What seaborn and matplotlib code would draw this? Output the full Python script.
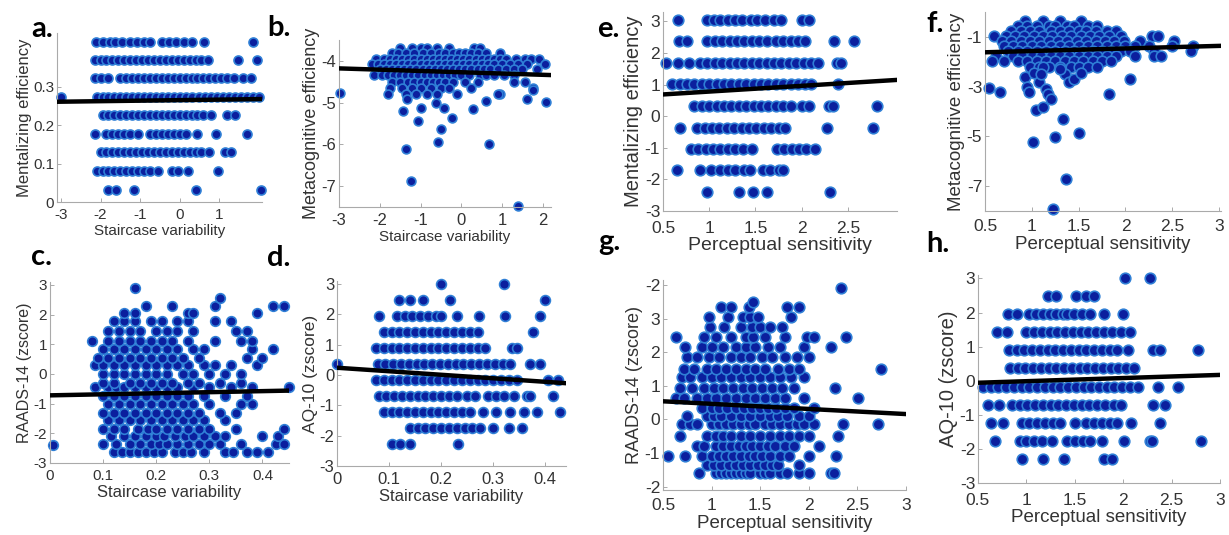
import matplotlib
matplotlib.use("Agg")
import matplotlib.pyplot as plt
import seaborn as sns
import pandas as pd

# ---------------- data ----------------
# panel a: Staircase variability vs Mentalizing efficiency (rows by level)
a_levels = [0.417, 0.37, 0.322, 0.274, 0.226, 0.176, 0.129, 0.08, 0.032]
a_rows = [
    [-2.11, -1.94, -1.77, -1.64, -1.47, -1.26, -1.09, -0.91, -0.74, -0.44, -0.27, -0.10, 0.11, 0.32, 0.62, 1.86],
    [-2.15, -2.0, -1.85, -1.7, -1.55, -1.4, -1.25, -1.1, -0.95, -0.8, -0.65, -0.5, -0.35, -0.2, -0.05, 0.1, 0.25, 0.4, 0.55, 0.72, 1.48, 1.95],
    [-2.15, -2.0, -1.8, -1.5, -1.35, -1.2, -1.05, -0.9, -0.75, -0.6, -0.45, -0.3, -0.15, 0.0, 0.15, 0.3, 0.45, 0.6, 0.75, 0.9, 1.05, 1.2, 1.38, 1.6, 1.8],
    [-3.0, -2.1, -1.95, -1.8, -1.65, -1.5, -1.35, -1.2, -1.05, -0.9, -0.75, -0.6, -0.45, -0.3, -0.15, 0.0, 0.15, 0.3, 0.5, 0.65, 0.8, 0.95, 1.1, 1.25, 1.4, 1.55, 1.7, 1.85, 2.0],
    [-1.95, -1.8, -1.65, -1.5, -1.35, -1.2, -1.05, -0.9, -0.75, -0.6, -0.45, -0.3, -0.15, 0.0, 0.15, 0.3, 0.45, 0.6, 0.8, 1.2, 1.4],
    [-2.15, -1.85, -1.7, -1.55, -1.4, -1.25, -1.05, -0.75, -0.6, -0.45, -0.3, -0.15, 0.0, 0.15, 0.45, 0.92, 1.7],
    [-2.0, -1.85, -1.7, -1.55, -1.4, -1.25, -1.1, -0.95, -0.8, -0.65, -0.5, -0.35, -0.2, -0.05, 0.1, 0.25, 0.4, 0.55, 0.75, 1.15, 1.3],
    [-2.1, -1.95, -1.8, -1.65, -1.5, -1.35, -1.2, -1.05, -0.9, -0.75, -0.55, -0.2, -0.05, 0.2, 0.98],
    [-1.8, -1.6, -1.15, 0.4, 2.05],
]
a_line_x = [-3.1, 2.08]
a_line_y = [0.261, 0.268]

# panel b: Staircase variability vs Metacognitive efficiency
b_levels = [-3.7, -3.82, -3.95, -4.08, -4.2, -4.35, -4.5, -4.65, -4.8]
b_rows = [
    [-1.5, -1.2, -1.0, -0.85, -0.6, -0.3, 0.3, 0.45],
    [-1.7, -1.55, -1.35, -1.15, -0.95, -0.75, -0.55, -0.4, -0.2, -0.05, 0.1, 0.25, 0.4, 0.6, 0.95],
    [-2.1, -1.9, -1.75, -1.6, -1.45, -1.3, -1.15, -1.0, -0.85, -0.7, -0.55, -0.4, -0.25, -0.1, 0.05, 0.2, 0.35, 0.5, 0.65, 0.8, 0.95, 1.1, 1.35, 1.55, 1.7, 1.9],
    [-2.2, -2.05, -1.9, -1.75, -1.6, -1.45, -1.3, -1.15, -1.0, -0.85, -0.7, -0.55, -0.4, -0.25, -0.1, 0.05, 0.2, 0.35, 0.5, 0.65, 0.8, 1.0, 1.2, 1.4, 1.6, 2.05],
    [-2.0, -1.85, -1.7, -1.55, -1.4, -1.25, -1.1, -0.95, -0.8, -0.65, -0.5, -0.35, -0.2, -0.05, 0.1, 0.25, 0.4, 0.55, 0.7, 0.9, 1.1, 1.3, 1.5, 1.85],
    [-2.15, -1.95, -1.8, -1.65, -1.5, -1.35, -1.2, -1.05, -0.9, -0.75, -0.6, -0.45, -0.3, -0.15, 0.0, 0.2, 0.45, 0.6, 0.8, 1.05, 1.3],
    [-1.7, -1.5, -1.3, -1.15, -1.0, -0.85, -0.7, -0.55, -0.4, -0.2, 0.1, 0.4, 1.3, 1.55],
    [-1.75, -1.45, -1.2, -1.0, -0.75, -0.5, -0.3, 0.25, 1.75],
    [-1.8, -1.35, -1.1, -0.85, -0.6, -0.1, 0.95],
]
b_extra_x = [-2.98, -1.43, -1.07, -1.35, -1.23, -0.49, -0.57, -0.23, 0.68, 1.39, 0.29, 0.61, 0.9, 1.6, 2.07, 1.76, -0.98, -0.43, -0.61, -1.33]
b_extra_y = [-4.78, -5.2, -5.44, -6.12, -6.88, -5.64, -5.94, -5.38, -6.0, -7.48, -5.16, -4.96, -4.8, -4.92, -4.98, -4.7, -5.12, -5.12, -5.02, -4.92]
b_line_x = [-3.0, 2.2]
b_line_y = [-4.18, -4.34]

# panel c: Staircase variability vs RAADS-14 (zscore)
c_levels = [-2.64, -2.35, -2.1, -1.85, -1.55, -1.3, -1.0, -0.75, -0.45, -0.3, 0.0, 0.3, 0.55, 0.85, 1.1, 1.45, 1.8, 2.05, 2.3, 2.55, 2.9]
c_rows = [
    [0.12, 0.135, 0.15, 0.165, 0.18, 0.195, 0.21, 0.235, 0.25, 0.265, 0.29, 0.33, 0.345, 0.37, 0.39, 0.41],
    [0.1, 0.125, 0.15, 0.17, 0.19, 0.205, 0.22, 0.24, 0.26, 0.28, 0.3, 0.32, 0.36, 0.425, 0.44],
    [0.115, 0.14, 0.16, 0.18, 0.2, 0.215, 0.235, 0.255, 0.27, 0.29, 0.31, 0.33, 0.4, 0.43],
    [0.1, 0.12, 0.14, 0.165, 0.185, 0.2, 0.22, 0.24, 0.26, 0.28, 0.3, 0.35, 0.44],
    [0.11, 0.13, 0.15, 0.17, 0.19, 0.21, 0.23, 0.25, 0.27, 0.29, 0.33],
    [0.1, 0.12, 0.14, 0.16, 0.18, 0.2, 0.22, 0.24, 0.26, 0.28, 0.32, 0.35],
    [0.11, 0.13, 0.15, 0.17, 0.19, 0.21, 0.23, 0.25, 0.27, 0.3, 0.36, 0.38],
    [0.1, 0.12, 0.14, 0.16, 0.18, 0.2, 0.22, 0.24, 0.26, 0.29, 0.33, 0.37],
    [0.085, 0.11, 0.125, 0.14, 0.16, 0.18, 0.2, 0.22, 0.24, 0.27, 0.3, 0.34, 0.38, 0.45],
    [0.1, 0.12, 0.15, 0.17, 0.19, 0.21, 0.23, 0.26, 0.28, 0.32, 0.36],
    [0.1, 0.12, 0.14, 0.16, 0.18, 0.2, 0.22, 0.25, 0.27, 0.3, 0.33, 0.36],
    [0.085, 0.1, 0.12, 0.14, 0.16, 0.18, 0.2, 0.22, 0.24, 0.26, 0.29, 0.31, 0.34, 0.39],
    [0.09, 0.11, 0.13, 0.15, 0.17, 0.19, 0.21, 0.23, 0.25, 0.28, 0.37, 0.4],
    [0.1, 0.12, 0.14, 0.16, 0.18, 0.2, 0.22, 0.24, 0.27, 0.29, 0.38, 0.42],
    [0.08, 0.11, 0.13, 0.15, 0.17, 0.19, 0.21, 0.23, 0.26, 0.31, 0.36, 0.38],
    [0.11, 0.13, 0.15, 0.17, 0.2, 0.22, 0.24, 0.27, 0.35, 0.37],
    [0.12, 0.14, 0.16, 0.19, 0.21, 0.24, 0.26, 0.31, 0.34],
    [0.14, 0.16, 0.26, 0.27, 0.39],
    [0.18, 0.23, 0.31, 0.42, 0.44],
    [0.32],
    [0.16],
]
c_extra_x = [0.005]
c_extra_y = [-2.4]
c_line_x = [0.0, 0.45]
c_line_y = [-0.72, -0.56]

# panel d: Staircase variability vs AQ-10 (zscore)
d_levels = [3.01, 2.48, 1.95, 1.42, 0.89, 0.36, -0.17, -0.70, -1.23, -1.76, -2.29]
d_rows = [
    [0.2, 0.32],
    [0.12, 0.14, 0.165, 0.217, 0.4],
    [0.08, 0.116, 0.13, 0.145, 0.16, 0.175, 0.19, 0.2, 0.23, 0.272, 0.323, 0.39],
    [0.09, 0.105, 0.12, 0.135, 0.15, 0.165, 0.18, 0.195, 0.21, 0.225, 0.24, 0.255, 0.27, 0.377],
    [0.075, 0.09, 0.105, 0.12, 0.135, 0.15, 0.165, 0.18, 0.195, 0.21, 0.225, 0.24, 0.255, 0.27, 0.285, 0.336, 0.345],
    [0.0, 0.078, 0.093, 0.108, 0.123, 0.138, 0.153, 0.168, 0.183, 0.198, 0.213, 0.228, 0.243, 0.258, 0.273, 0.288, 0.303, 0.318, 0.333, 0.37, 0.39],
    [0.075, 0.09, 0.105, 0.12, 0.135, 0.15, 0.165, 0.18, 0.195, 0.21, 0.225, 0.24, 0.255, 0.27, 0.285, 0.3, 0.315, 0.33, 0.345, 0.405, 0.425],
    [0.08, 0.095, 0.11, 0.125, 0.14, 0.155, 0.17, 0.185, 0.2, 0.215, 0.23, 0.25, 0.265, 0.29, 0.305, 0.32, 0.34, 0.365, 0.37, 0.415],
    [0.09, 0.105, 0.12, 0.135, 0.15, 0.165, 0.18, 0.195, 0.21, 0.225, 0.24, 0.255, 0.28, 0.306, 0.333, 0.36, 0.385, 0.428],
    [0.14, 0.155, 0.17, 0.185, 0.2, 0.215, 0.23, 0.245, 0.26, 0.275, 0.3, 0.33, 0.355],
    [0.106, 0.122, 0.14, 0.232],
]
d_line_x = [0.0, 0.44]
d_line_y = [0.24, -0.27]

# panel e: Perceptual sensitivity vs Mentalizing efficiency
e_levels = [3.05, 2.37, 1.69, 1.01, 0.33, -0.36, -1.04, -1.71, -2.40]
e_rows = [
    [0.66, 0.98, 1.05, 1.12, 1.2, 1.28, 1.35, 1.45, 1.52, 1.6, 1.7, 1.78, 2.0, 2.08],
    [0.67, 0.76, 0.98, 1.06, 1.14, 1.22, 1.3, 1.38, 1.46, 1.54, 1.62, 1.72, 1.8, 1.88, 1.96, 2.04, 2.35, 2.57],
    [0.53, 0.66, 0.78, 0.9, 0.98, 1.06, 1.14, 1.22, 1.3, 1.38, 1.46, 1.54, 1.62, 1.7, 1.78, 1.86, 1.94, 2.02, 2.1, 2.18, 2.38, 2.42],
    [0.6, 0.68, 0.76, 0.84, 0.92, 1.0, 1.08, 1.16, 1.24, 1.32, 1.4, 1.48, 1.56, 1.64, 1.72, 1.8, 1.88, 1.96, 2.04, 2.1, 2.39],
    [0.84, 0.92, 1.0, 1.08, 1.16, 1.24, 1.32, 1.4, 1.48, 1.56, 1.64, 1.72, 1.8, 1.88, 2.0, 2.08, 2.3, 2.34, 2.81],
    [0.68, 0.87, 0.95, 1.03, 1.11, 1.19, 1.27, 1.35, 1.43, 1.51, 1.59, 1.67, 1.75, 1.82, 2.27, 2.77],
    [0.8, 0.88, 0.96, 1.04, 1.12, 1.2, 1.28, 1.36, 1.46, 1.73, 1.81, 1.89, 1.97, 2.05, 2.14],
    [0.65, 0.9, 1.02, 1.12, 1.2, 1.28, 1.38, 1.44, 1.58, 1.66, 1.75, 1.8],
    [0.98, 1.32, 1.47, 1.62, 2.31],
]
e_line_x = [0.5, 3.03]
e_line_y = [0.69, 1.15]

# panel f: Perceptual sensitivity vs Metacognitive efficiency
f_levels = [-0.35, -0.55, -0.75, -0.95, -1.15, -1.35, -1.55, -1.75, -1.95, -2.2]
f_rows = [
    [0.93, 1.12, 1.3, 1.52],
    [0.85, 0.95, 1.05, 1.18, 1.25, 1.38, 1.45, 1.6, 1.7],
    [0.78, 0.88, 0.98, 1.08, 1.2, 1.3, 1.4, 1.5, 1.58, 1.68, 1.8, 1.9],
    [0.6, 0.72, 0.82, 0.92, 1.02, 1.12, 1.22, 1.32, 1.42, 1.52, 1.62, 1.72, 1.82, 1.95, 2.28, 2.35],
    [0.68, 0.78, 0.88, 0.98, 1.08, 1.18, 1.28, 1.38, 1.48, 1.58, 1.68, 1.78, 1.88, 1.98, 2.15, 2.52],
    [0.7, 0.8, 0.9, 1.0, 1.1, 1.2, 1.3, 1.4, 1.5, 1.6, 1.7, 1.8, 1.9, 2.0, 2.1, 2.25, 2.5, 2.72],
    [0.75, 0.85, 0.95, 1.05, 1.15, 1.25, 1.35, 1.45, 1.55, 1.65, 1.75, 1.85, 1.95, 2.05, 2.3, 2.7],
    [0.62, 0.8, 0.9, 1.0, 1.1, 1.2, 1.3, 1.4, 1.5, 1.6, 1.7, 1.8, 1.9, 2.1, 2.3, 2.38],
    [0.58, 0.7, 0.85, 0.95, 1.05, 1.15, 1.25, 1.35, 1.45, 1.55, 1.65, 1.75, 1.85],
    [0.98, 1.08, 1.18, 1.3, 1.42, 1.5, 1.6, 1.7],
]
f_extra_x = [0.54, 0.66, 1.04, 1.12, 1.33, 1.25, 1.01, 1.5, 1.36, 1.23, 2.05, 1.82,
             0.93, 0.95, 0.97, 1.02, 1.08, 1.12, 1.15, 1.17, 1.2, 1.1, 1.35, 1.4, 1.45, 1.3, 1.52]
f_extra_y = [-3.05, -3.22, -3.92, -3.8, -4.31, -5.02, -5.21, -4.85, -6.71, -7.9, -2.69, -3.28,
             -2.6, -3.0, -3.2, -2.45, -2.8, -2.2, -3.1, -3.3, -3.5, -2.5, -2.5, -2.8, -2.7, -2.3, -2.45]
f_line_x = [0.5, 3.02]
f_line_y = [-1.62, -1.36]

# panel g: Perceptual sensitivity vs RAADS-14 (zscore)
g_levels = [-1.6, -1.35, -1.1, -0.8, -0.5, -0.15, 0.1, 0.35, 0.65, 0.95, 1.25, 1.5, 1.85, 2.15, 2.45, 2.75, 3.05, 3.35, 3.5, 3.9]
g_rows = [
    [0.87, 1.05, 1.1, 1.15, 1.2, 1.25, 1.3, 1.35, 1.4, 1.5, 1.55, 1.6, 1.7, 1.78, 1.9, 2.0, 2.23, 2.26],
    [0.95, 1.02, 1.1, 1.18, 1.25, 1.32, 1.4, 1.48, 1.55, 1.62, 1.68, 1.9],
    [0.55, 0.73, 0.9, 1.0, 1.08, 1.15, 1.22, 1.3, 1.38, 1.45, 1.52, 1.6, 1.7, 1.8, 2.0, 2.28],
    [0.85, 0.92, 1.05, 1.12, 1.2, 1.28, 1.35, 1.42, 1.5, 1.58, 1.65, 1.75, 1.85, 2.1],
    [0.68, 0.95, 1.05, 1.12, 1.2, 1.3, 1.4, 1.5, 1.6, 1.7, 1.8, 1.9, 2.0, 2.3],
    [0.7, 0.78, 0.85, 1.0, 1.08, 1.15, 1.22, 1.3, 1.38, 1.45, 1.55, 1.62, 1.7, 1.8, 1.88, 1.95, 2.05, 2.35, 2.71],
    [0.75, 0.95, 1.02, 1.1, 1.2, 1.3, 1.4, 1.5, 1.6, 1.68, 1.78, 1.9, 2.0],
    [0.9, 1.0, 1.08, 1.16, 1.25, 1.33, 1.42, 1.5, 1.58, 1.66, 1.75, 1.85, 2.05],
    [0.63, 0.72, 0.85, 0.95, 1.05, 1.15, 1.25, 1.35, 1.45, 1.55, 1.65, 1.75, 1.95, 2.51],
    [0.68, 0.8, 0.92, 1.02, 1.12, 1.22, 1.32, 1.42, 1.52, 1.62, 1.72, 1.85, 2.27],
    [0.7, 0.78, 0.9, 1.0, 1.1, 1.2, 1.3, 1.4, 1.5, 1.6, 1.7, 1.82, 1.95],
    [0.72, 0.82, 0.95, 1.05, 1.15, 1.25, 1.35, 1.45, 1.55, 1.68, 1.8, 1.9, 2.74],
    [0.75, 0.85, 0.97, 1.08, 1.2, 1.3, 1.4, 1.52, 1.62, 1.75, 1.88, 2.0],
    [0.73, 0.9, 1.0, 1.12, 1.25, 1.35, 1.45, 1.58, 1.7, 1.95, 2.23],
    [0.63, 0.92, 1.05, 1.2, 1.35, 1.43, 1.55, 1.75, 1.98, 2.05, 2.38],
    [0.98, 1.13, 1.3, 1.42, 1.5, 1.6, 1.72],
    [0.97, 1.17, 1.32, 1.4, 1.48, 1.82],
    [1.1, 1.2, 1.38, 1.78, 1.9],
    [1.43],
    [2.33],
]
g_line_x = [0.5, 3.0]
g_line_y = [0.54, 0.16]
g_yticks = [-2, -1, 0, 1, 2, 3, 4]
g_yticklabels = ["-2", "-1", "0", "1", "2", "3", "-2"]

# panel h: Perceptual sensitivity vs AQ-10 (zscore)
h_levels = [3.01, 2.48, 1.95, 1.42, 0.89, 0.36, -0.17, -0.70, -1.23, -1.76, -2.29]
h_rows = [
    [2.02, 2.28],
    [1.22, 1.31, 1.51, 1.62, 1.7],
    [0.81, 0.9, 1.03, 1.1, 1.17, 1.24, 1.31, 1.38, 1.42, 1.49, 1.57, 1.66, 1.8, 2.0],
    [0.7, 0.8, 1.0, 1.08, 1.16, 1.24, 1.32, 1.4, 1.48, 1.56, 1.64, 1.72, 1.8, 1.88, 1.98, 2.07],
    [0.82, 0.9, 0.98, 1.06, 1.14, 1.22, 1.3, 1.38, 1.46, 1.54, 1.62, 1.7, 1.78, 1.86, 1.94, 2.05, 2.31, 2.38, 2.77],
    [0.83, 0.91, 0.99, 1.07, 1.15, 1.23, 1.31, 1.39, 1.47, 1.55, 1.63, 1.71, 1.79, 1.87, 1.95, 2.03, 2.11],
    [0.55, 0.63, 0.71, 0.79, 0.87, 0.95, 1.03, 1.11, 1.19, 1.27, 1.35, 1.43, 1.51, 1.59, 1.67, 1.75, 1.83, 1.91, 1.99, 2.07, 2.15, 2.36, 2.57],
    [0.6, 0.72, 0.85, 0.93, 1.01, 1.09, 1.17, 1.25, 1.33, 1.41, 1.49, 1.57, 1.65, 1.73, 1.81, 1.9, 1.98, 2.31, 2.43],
    [0.63, 0.76, 0.95, 1.03, 1.11, 1.19, 1.27, 1.35, 1.5, 1.62, 1.7, 1.78, 1.86, 1.94, 2.08, 2.38],
    [0.68, 0.93, 1.0, 1.08, 1.16, 1.26, 1.42, 1.5, 1.58, 1.66, 1.78, 2.01, 2.28, 2.3, 2.8],
    [0.95, 1.17, 1.39, 1.8, 1.88],
]
h_line_x = [0.5, 3.0]
h_line_y = [-0.06, 0.17]

# ---------------- drawing ----------------
sns.set_theme(style="white")
plt.rcParams["font.family"] = ["Liberation Sans", "DejaVu Sans"]

W, H = 1229, 535
fig = plt.figure(figsize=(W / 100, H / 100), dpi=100)

FACE = "#0b1f9e"
EDGE = "#2f7fd6"


def rows_to_df(levels, rows, ex=None, ey=None):
    xs, ys = [], []
    for lv, r in zip(levels, rows):
        xs += list(r)
        ys += [lv] * len(r)
    if ex is not None:
        xs += list(ex)
        ys += list(ey)
    return pd.DataFrame({"x": xs, "y": ys})


def panel(rect_px, df, lx, ly, xlim, ylim, xticks, yticks, xlabel, ylabel,
          ms, tick_fs, xl_fs, yl_fs, yticklabels=None, xpad=4.5):
    l, r, t, b = rect_px
    ax = fig.add_axes([l / W, 1 - b / H, (r - l) / W, (b - t) / H])
    sns.scatterplot(data=df, x="x", y="y", ax=ax, s=ms, color=FACE,
                    edgecolor=EDGE, linewidth=1.2, legend=False, zorder=2,
                    clip_on=False)
    sns.lineplot(x=lx, y=ly, ax=ax, color="black", linewidth=3.2, zorder=3)
    ax.set_xlim(*xlim)
    ax.set_ylim(*ylim)
    ax.set_xticks(xticks)
    ax.set_xticklabels([f"{v:g}" for v in xticks])
    ax.set_yticks(yticks)
    ax.set_yticklabels(yticklabels if yticklabels else [f"{v:g}" for v in yticks])
    ax.set_xlabel(xlabel, fontsize=xl_fs, color="#333333", labelpad=1)
    ax.set_ylabel(ylabel, fontsize=yl_fs, color="#333333", labelpad=1)
    for s in ["top", "right"]:
        ax.spines[s].set_visible(False)
    for s in ["left", "bottom"]:
        ax.spines[s].set_color("#aaaaaa")
        ax.spines[s].set_linewidth(0.8)
    ax.tick_params(direction="in", length=3, width=0.7, color="#aaaaaa",
                   labelsize=tick_fs, labelcolor="#333333", pad=2,
                   left=True, bottom=True)
    ax.tick_params(axis="x", pad=xpad)
    ax.set_facecolor("none")
    return ax


panel((57, 262, 33, 202), rows_to_df(a_levels, a_rows), a_line_x, a_line_y,
      (-3.1, 2.08), (0, 0.44), [-3, -2, -1, 0, 1], [0, 0.1, 0.2, 0.3],
      "Staircase variability", "Mentalizing efficiency", 42, 11, 11, 12)

panel((339, 551, 40, 207), rows_to_df(b_levels, b_rows, b_extra_x, b_extra_y),
      b_line_x, b_line_y, (-3.0, 2.2), (-7.5, -3.5), [-3, -2, -1, 0, 1, 2],
      [-7, -6, -5, -4], "Staircase variability", "Metacognitive efficiency",
      40, 12, 11, 13)

panel((50, 289, 282, 463), rows_to_df(c_levels, c_rows, c_extra_x, c_extra_y),
      c_line_x, c_line_y, (0, 0.45), (-3, 3.1), [0, 0.1, 0.2, 0.3, 0.4],
      [-3, -2, -1, 0, 1, 2, 3], "Staircase variability", "RAADS-14 (zscore)",
      48, 11, 12, 11.5)

panel((337, 566, 281, 466), rows_to_df(d_levels, d_rows), d_line_x, d_line_y,
      (0, 0.44), (-3, 3.1), [0, 0.1, 0.2, 0.3, 0.4], [-3, -2, -1, 0, 1, 2, 3],
      "Staircase variability", "AQ-10 (zscore)", 50, 12, 12, 12.5)

panel((663, 897, 12, 211), rows_to_df(e_levels, e_rows), e_line_x, e_line_y,
      (0.5, 3.03), (-3, 3.3), [0.5, 1, 1.5, 2, 2.5], [-3, -2, -1, 0, 1, 2, 3],
      "Perceptual sensitivity", "Mentalizing efficiency", 58, 12.5, 14, 14.5,
      xpad=7)

panel((985, 1221, 12, 211), rows_to_df(f_levels, f_rows, f_extra_x, f_extra_y),
      f_line_x, f_line_y, (0.5, 3.02), (-8, 0), [0.5, 1, 1.5, 2, 2.5, 3],
      [-7, -5, -3, -1], "Perceptual sensitivity", "Metacognitive efficiency",
      58, 12.5, 13.5, 13.5, xpad=6)

panel((663, 906, 280, 490), rows_to_df(g_levels, g_rows), g_line_x, g_line_y,
      (0.5, 3.0), (-2.1, 4.15), [0.5, 1, 1.5, 2, 2.5, 3], g_yticks,
      "Perceptual sensitivity", "RAADS-14 (zscore)", 58, 12.5, 13.5, 13,
      yticklabels=g_yticklabels, xpad=6)

panel((978, 1220, 275, 483), rows_to_df(h_levels, h_rows), h_line_x, h_line_y,
      (0.5, 3.0), (-3, 3.1), [0.5, 1, 1.5, 2, 2.5, 3], [-3, -2, -1, 0, 1, 2, 3],
      "Perceptual sensitivity", "AQ-10 (zscore)", 58, 12.5, 13.5, 14.5,
      xpad=7)

letters = [("a.", 31, 37), ("b.", 267, 36), ("c.", 31, 265), ("d.", 267, 266),
           ("e.", 597, 37), ("f.", 926, 32), ("g.", 598, 250), ("h.", 926, 252)]
for txt, x, y in letters:
    fig.text(x / W, 1 - y / H, txt, fontsize=21, fontweight="bold",
             family=["Lato", "DejaVu Sans"], ha="left", va="baseline",
             color="black")

fig.savefig("out.png", dpi=100, facecolor="white")
